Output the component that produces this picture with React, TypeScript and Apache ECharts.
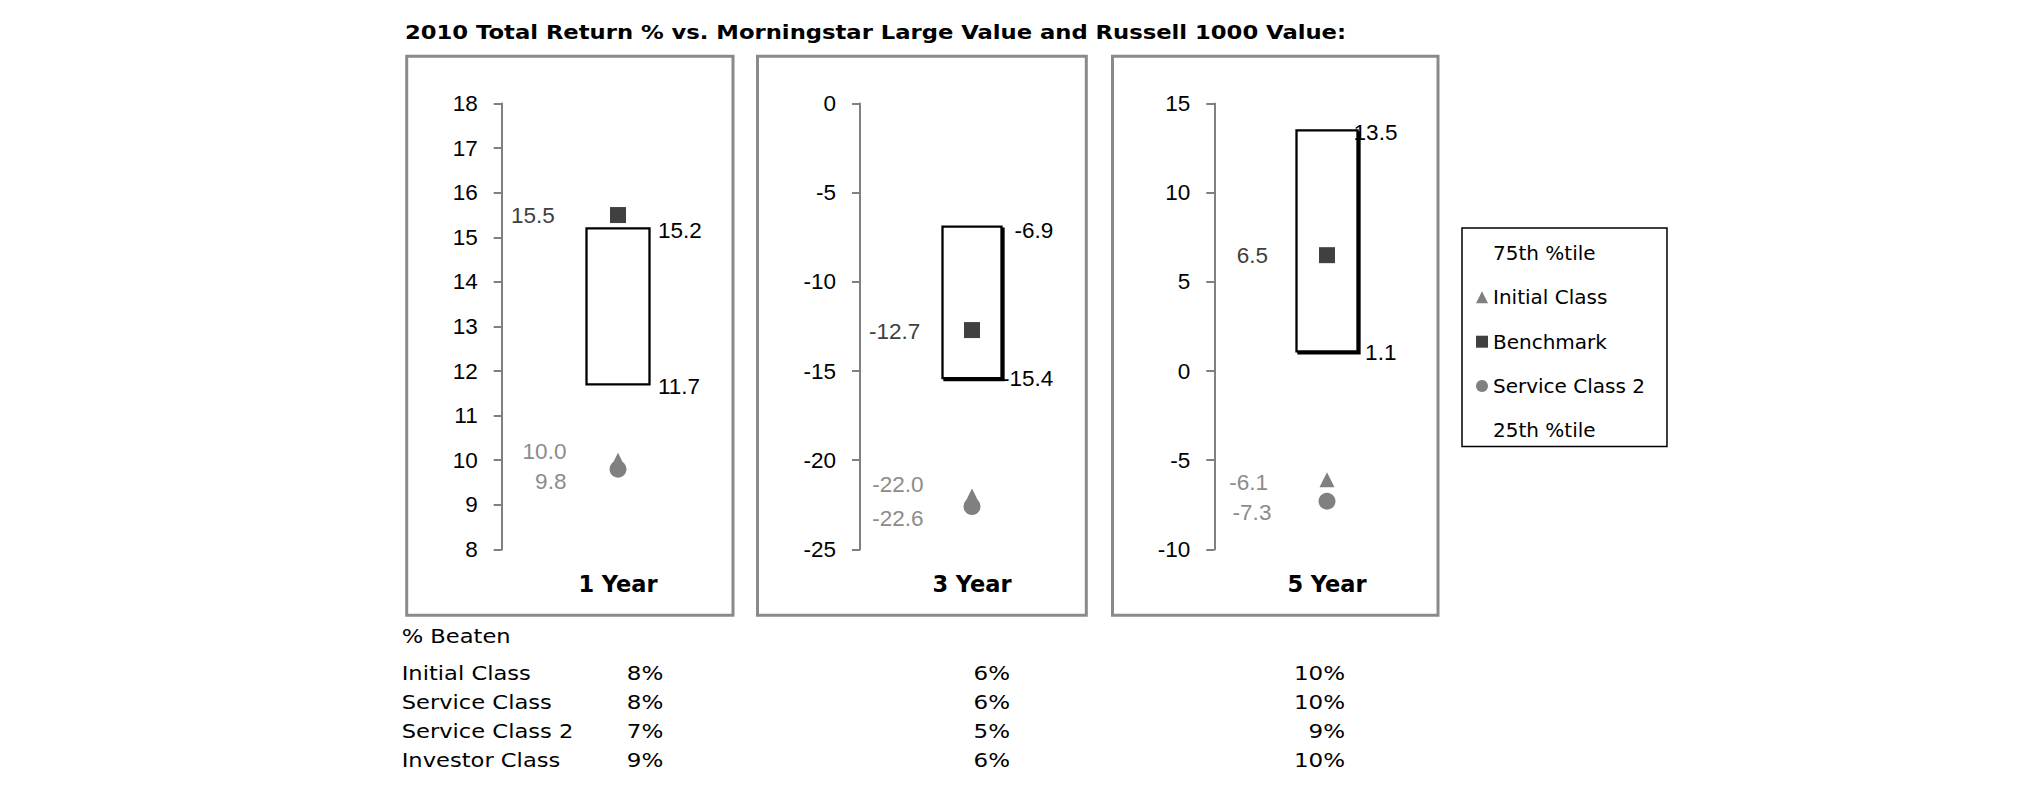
import React, { useEffect, useRef } from "react";
import * as echarts from "echarts";

// ---------- data ----------
const titleText = "2010 Total Return % vs. Morningstar Large Value and Russell 1000 Value:";
const periods = ["1 Year", "3 Year", "5 Year"];
const pct75 = [15.2, -6.9, 13.5];
const pct25 = [11.7, -15.4, 1.1];
const benchmark = [15.5, -12.7, 6.5];
const initialClass = [10.0, -22.0, -6.1];
const serviceClass2 = [9.8, -22.6, -7.3];
const yMin = [8, -25, -10];
const yMax = [18, 0, 15];
const yInterval = [1, 5, 5];

const legendNames = ["75th %tile", "Initial Class", "Benchmark", "Service Class 2", "25th %tile"];

const beatenTitle = "% Beaten";
const beatenClasses = ["Initial Class", "Service Class", "Service Class 2", "Investor Class"];
const beaten1Y = [8, 8, 7, 9];
const beaten3Y = [6, 6, 5, 6];
const beaten5Y = [10, 10, 9, 10];

// ---------- layout / style ----------
const gridTop = 103.6;
const gridHeight = 445.8;
const gridLeft = [501.7, 860, 1214.3];
const gridWidth = [232.6, 224, 225.4];
const boxWidth = [63.5, 60, 61];
const boxShadow = [0, 2, 2];
const frameX = [
  [406.7, 733],
  [757.5, 1086.3],
  [1112.5, 1438],
];
const frameTop = 56.3;
const frameBottom = 615.2;

const benchOff = [
  [-63.3, 0],
  [-51.7, 1],
  [-59, 0],
];
const initOff = [
  [-51.6, -9],
  [-48.4, -11.3],
  [-59, 3],
];
const svc2Off = [
  [-51.6, 12],
  [-48.4, 11.4],
  [-55.6, 11.2],
];
const p75Off = [
  [83.7, 1.6],
  [81.3, 3.4],
  [70.4, 1.7],
];
const p25Off = [
  [82, 2],
  [81.3, 0.3],
  [69.4, 1],
];

const tableLabelX = 401.7;
const tableValueRight = [663.3, 1010, 1345];
const tableHeaderY = 636;
const tableRowY = [673, 702, 731, 760];

const numFont = "Liberation Sans, Arial, sans-serif";
const verdana = "DejaVu Sans, Verdana, sans-serif";
const markerGray = "#808080";
const darkGray = "#404040";
const labelGray = "#8c8c8c";
const numSize = 22.5;

function labelSeries(
  name: string,
  value: number,
  i: number,
  symbol: string,
  size: number | number[],
  color: string,
  labelColor: string,
  off: number[]
) {
  return {
    type: "scatter",
    name,
    xAxisIndex: i,
    yAxisIndex: i,
    symbol,
    symbolSize: size,
    itemStyle: { color, opacity: 1 },
    data: [value],
    z: 5,
    label: {
      show: true,
      position: "inside",
      align: "right",
      verticalAlign: "middle",
      offset: off,
      fontFamily: numFont,
      fontSize: numSize,
      color: labelColor,
      formatter: (p: any) => Number(p.value).toFixed(1),
    },
    emphasis: { disabled: true },
  };
}

export default function App() {
  const ref = useRef<HTMLDivElement>(null);

  useEffect(() => {
    document.body.style.margin = "0";
    if (!ref.current) return;
    const chart = echarts.init(ref.current, undefined, { renderer: "svg" });

    const grids = periods.map((_, i) => ({
      left: gridLeft[i],
      top: gridTop,
      width: gridWidth[i],
      height: gridHeight,
      containLabel: false,
      outerBoundsMode: "none",
    }));

    const xAxes = periods.map((p, i) => ({
      type: "category",
      gridIndex: i,
      data: [p],
      axisLine: { show: false, onZero: false },
      axisTick: { show: false },
      splitLine: { show: false },
      axisLabel: {
        margin: 35,
        verticalAlign: "middle",
        fontFamily: verdana,
        fontWeight: "bold",
        fontSize: 22.5,
        color: "#000",
      },
    }));

    const yAxes = periods.map((_, i) => ({
      type: "value",
      gridIndex: i,
      min: yMin[i],
      max: yMax[i],
      interval: yInterval[i],
      axisLine: { show: true, onZero: false, lineStyle: { color: "#808080", width: 2 } },
      axisTick: { show: true, inside: false, length: 8, lineStyle: { color: "#808080", width: 2 } },
      splitLine: { show: false },
      axisLabel: { margin: 24, fontFamily: numFont, fontSize: numSize, color: "#000" },
    }));

    const series: any[] = [];
    periods.forEach((_, i) => {
      series.push({
        type: "candlestick",
        name: "Interquartile range",
        xAxisIndex: i,
        yAxisIndex: i,
        barWidth: boxWidth[i],
        data: [[pct25[i], pct75[i], pct25[i], pct75[i]]],
        itemStyle: {
          color: "#fff",
          color0: "#fff",
          borderColor: "#000",
          borderColor0: "#000",
          borderWidth: 2.3,
          shadowColor: boxShadow[i] ? "#000" : "rgba(0,0,0,0)",
          shadowBlur: 0,
          shadowOffsetX: boxShadow[i],
          shadowOffsetY: boxShadow[i],
        },
        emphasis: { disabled: true },
        z: 2,
      });
      series.push(labelSeries("75th %tile", pct75[i], i, "rect", 0, "rgba(0,0,0,0)", "#000", p75Off[i]));
      series.push(labelSeries("25th %tile", pct25[i], i, "rect", 0, "rgba(0,0,0,0)", "#000", p25Off[i]));
      series.push(labelSeries("Service Class 2", serviceClass2[i], i, "circle", 17, markerGray, labelGray, svc2Off[i]));
      series.push(labelSeries("Initial Class", initialClass[i], i, "triangle", [15, 15], markerGray, labelGray, initOff[i]));
      series.push(labelSeries("Benchmark", benchmark[i], i, "rect", 16, darkGray, darkGray, benchOff[i]));
    });

    const graphic: any[] = [];
    frameX.forEach(([x0, x1]) => {
      graphic.push({
        type: "rect",
        shape: { x: x0, y: frameTop, width: x1 - x0, height: frameBottom - frameTop },
        style: { fill: "none", stroke: "#8a8a8a", lineWidth: 3 },
        silent: true,
      });
    });
    graphic.push({
      type: "text",
      x: 405,
      y: 31.7,
      scaleX: 1.135,
      style: {
        text: titleText,
        fontFamily: verdana,
        fontWeight: "bold",
        fontSize: 20,
        fill: "#000",
        align: "left",
        verticalAlign: "middle",
      },
    });
    const tStyle = { fontFamily: verdana, fontSize: 20, fill: "#000", verticalAlign: "middle" };
    graphic.push({
      type: "text",
      x: tableLabelX,
      y: tableHeaderY,
      scaleX: 1.13,
      style: { ...tStyle, text: beatenTitle, align: "left" },
    });
    const cols = [beaten1Y, beaten3Y, beaten5Y];
    beatenClasses.forEach((c, r) => {
      graphic.push({
        type: "text",
        x: tableLabelX,
        y: tableRowY[r],
        scaleX: 1.13,
        style: { ...tStyle, text: c, align: "left" },
      });
      cols.forEach((col, ci) => {
        graphic.push({
          type: "text",
          x: tableValueRight[ci],
          y: tableRowY[r],
          scaleX: 1.15,
          style: { ...tStyle, text: col[r] + "%", align: "right" },
        });
      });
    });

    chart.setOption({
      animation: false,
      backgroundColor: "#fff",
      grid: grids,
      xAxis: xAxes,
      yAxis: yAxes,
      legend: {
        orient: "vertical",
        left: 1462,
        top: 228,
        padding: [15, 22, 6, 14],
        itemGap: 24.35,
        itemWidth: 12,
        itemHeight: 12,
        borderColor: "#000",
        borderWidth: 1.5,
        backgroundColor: "#fff",
        selectedMode: false,
        textStyle: { fontFamily: verdana, fontSize: 20, color: "#000", lineHeight: 20 },
        data: [
          { name: legendNames[0], icon: "rect", itemStyle: { opacity: 0 } },
          { name: legendNames[1], icon: "triangle", itemStyle: { color: markerGray } },
          { name: legendNames[2], icon: "rect", itemStyle: { color: darkGray } },
          { name: legendNames[3], icon: "circle", itemStyle: { color: markerGray } },
          { name: legendNames[4], icon: "rect", itemStyle: { opacity: 0 } },
        ],
      },
      tooltip: { show: false },
      graphic,
      series,
    });

    return () => chart.dispose();
  }, []);

  return <div ref={ref} style={{ width: 2025, height: 806, background: "#fff" }} />;
}
